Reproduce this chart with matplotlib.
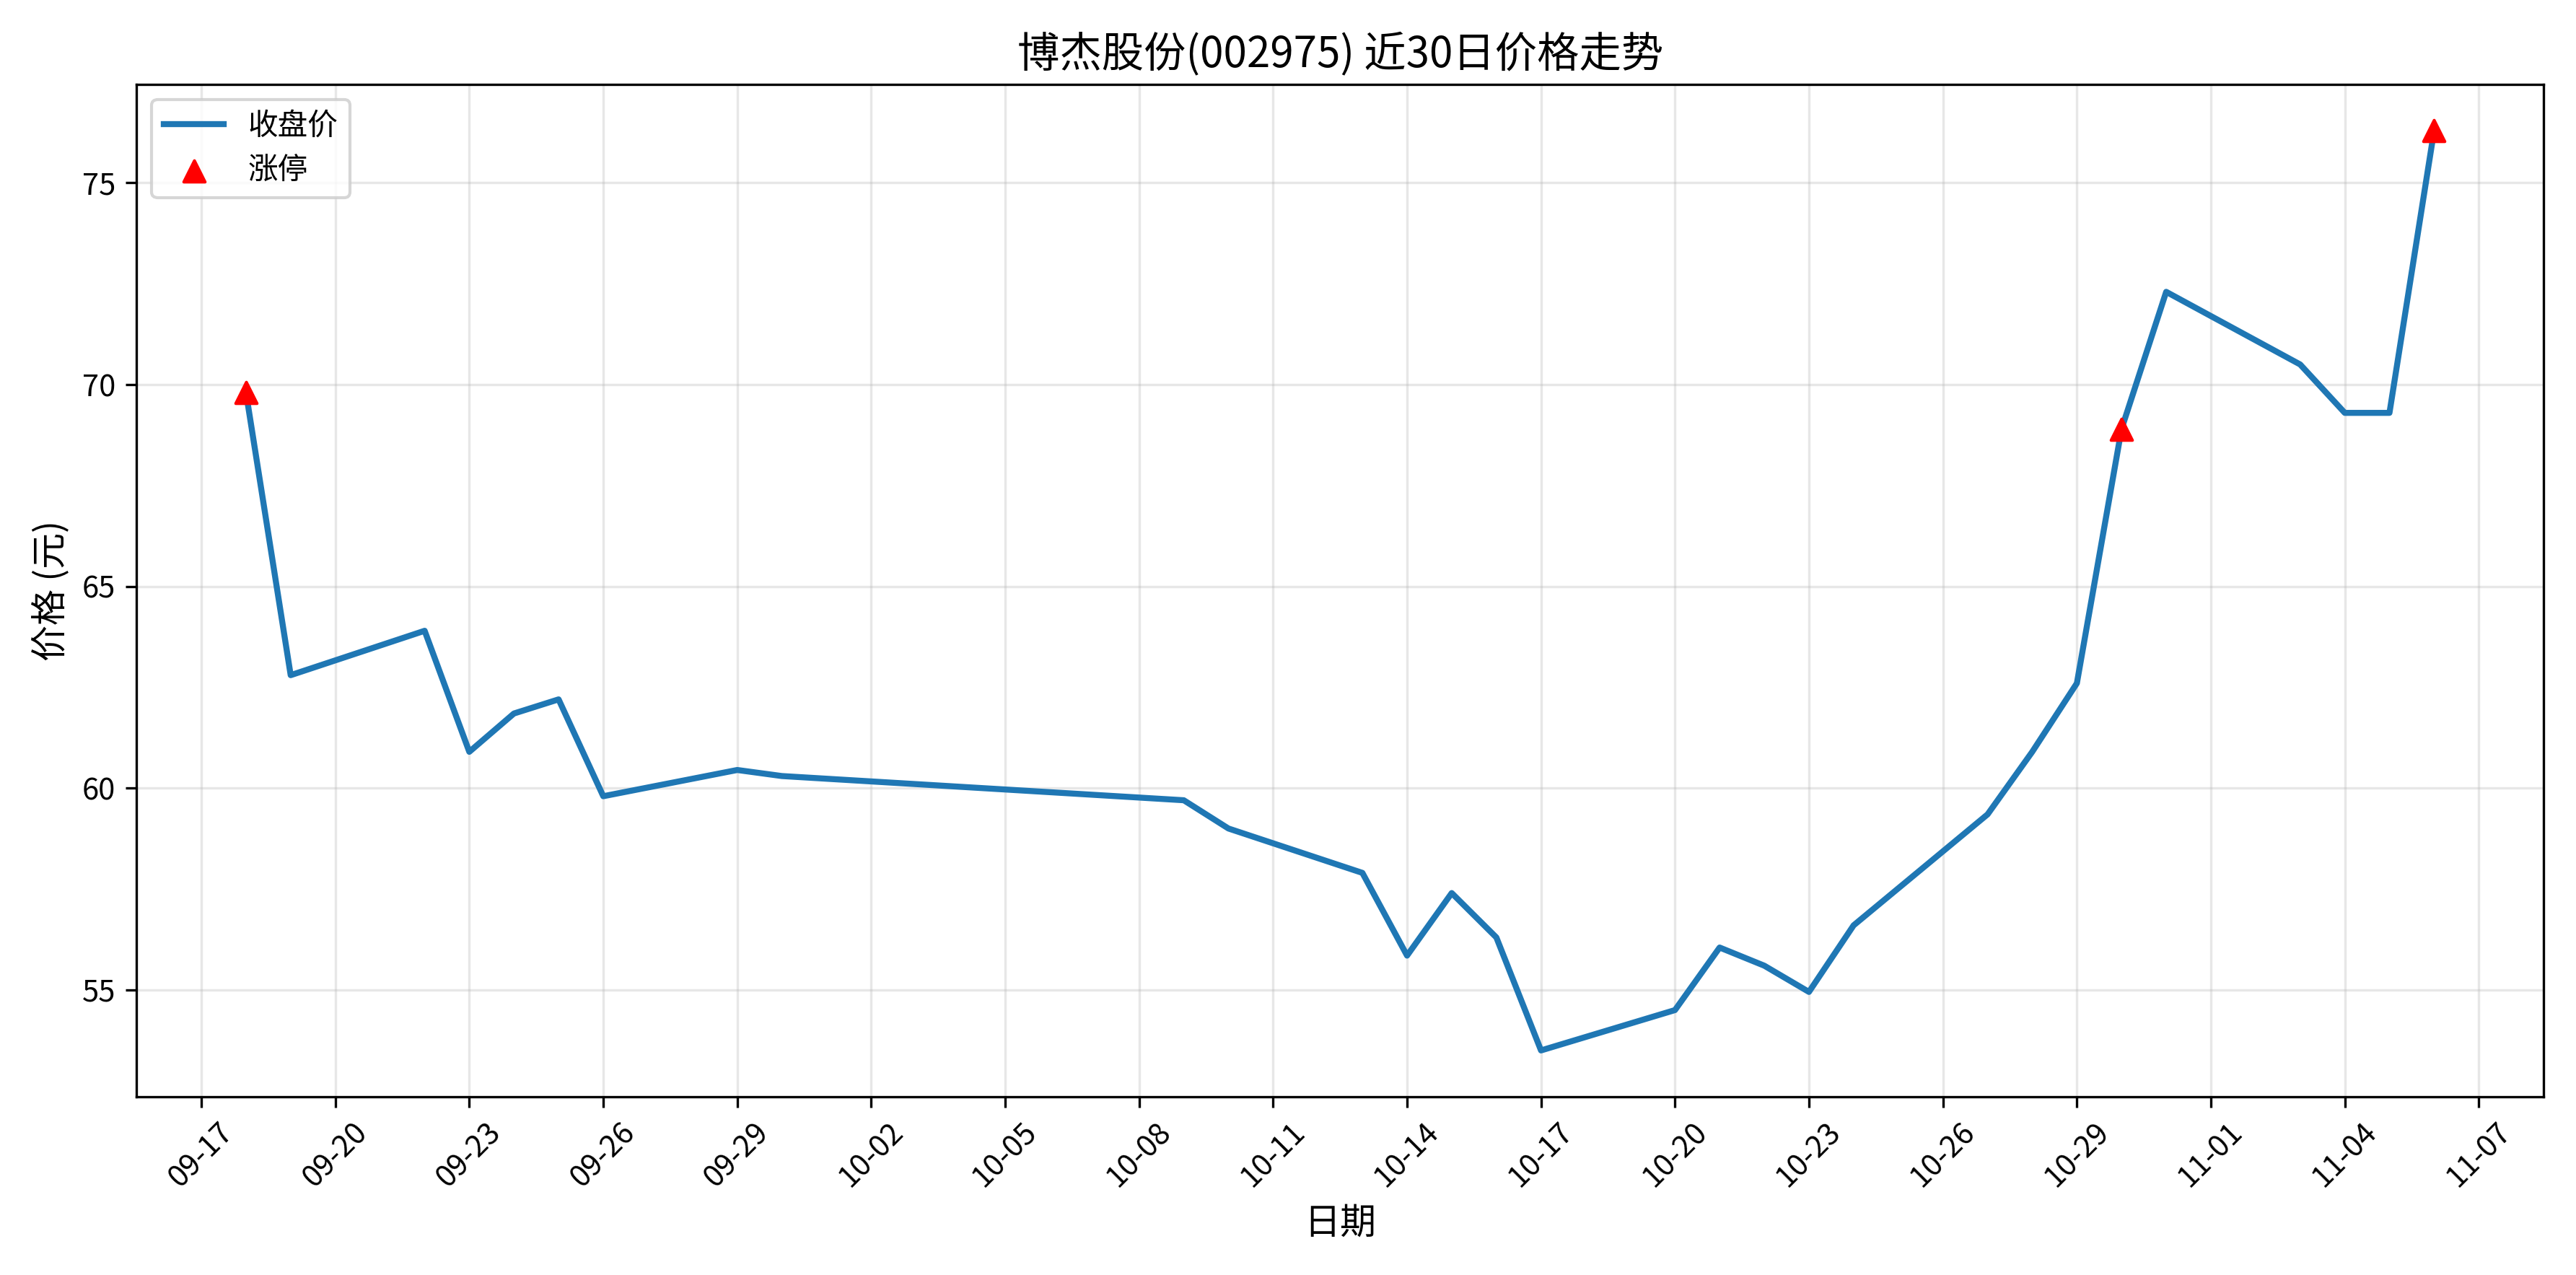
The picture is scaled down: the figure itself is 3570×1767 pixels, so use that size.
import matplotlib
matplotlib.use("Agg")
import matplotlib.pyplot as plt
import matplotlib.dates as mdates
import pandas as pd

plt.rcParams['font.family'] = ['Noto Sans CJK SC', 'DejaVu Sans']
plt.rcParams['axes.unicode_minus'] = False

dates = ["2025-09-18","2025-09-19","2025-09-22","2025-09-23","2025-09-24","2025-09-25",
         "2025-09-26","2025-09-29","2025-09-30","2025-10-09","2025-10-10","2025-10-13",
         "2025-10-14","2025-10-15","2025-10-16","2025-10-17","2025-10-20","2025-10-21",
         "2025-10-22","2025-10-23","2025-10-24","2025-10-27","2025-10-28","2025-10-29",
         "2025-10-30","2025-10-31","2025-11-03","2025-11-04","2025-11-05","2025-11-06"]
close = [69.8,62.8,63.9,60.9,61.85,62.2,59.8,60.45,60.3,59.7,59.0,57.9,
         55.85,57.4,56.3,53.5,54.5,56.05,55.6,54.95,56.6,59.35,60.9,62.6,
         68.9,72.3,70.5,69.3,69.3,76.3]
limit_up_dates = ["2025-09-18","2025-10-30","2025-11-06"]
limit_up_prices = [69.8,68.9,76.3]

d = pd.to_datetime(dates)
ld = pd.to_datetime(limit_up_dates)

fig, ax = plt.subplots(figsize=(11.9, 5.89), dpi=300)
ax.plot(d, close, color='#1f77b4', linewidth=2, label='收盘价')
ax.scatter(ld, limit_up_prices, marker='^', color='red', s=50, zorder=5, label='涨停')
ax.set_title('博杰股份(002975) 近30日价格走势', fontsize=14)
ax.set_xlabel('日期', fontsize=12)
ax.set_ylabel('价格 (元)', fontsize=12)
ax.set_xticks(pd.date_range('2025-09-17', '2025-11-07', freq='3D'))
ax.xaxis.set_major_formatter(mdates.DateFormatter('%m-%d'))
plt.setp(ax.get_xticklabels(), rotation=45)
ax.grid(True, alpha=0.3)
ax.legend(loc='upper left')
fig.tight_layout()
fig.savefig('out.png', dpi=300)
